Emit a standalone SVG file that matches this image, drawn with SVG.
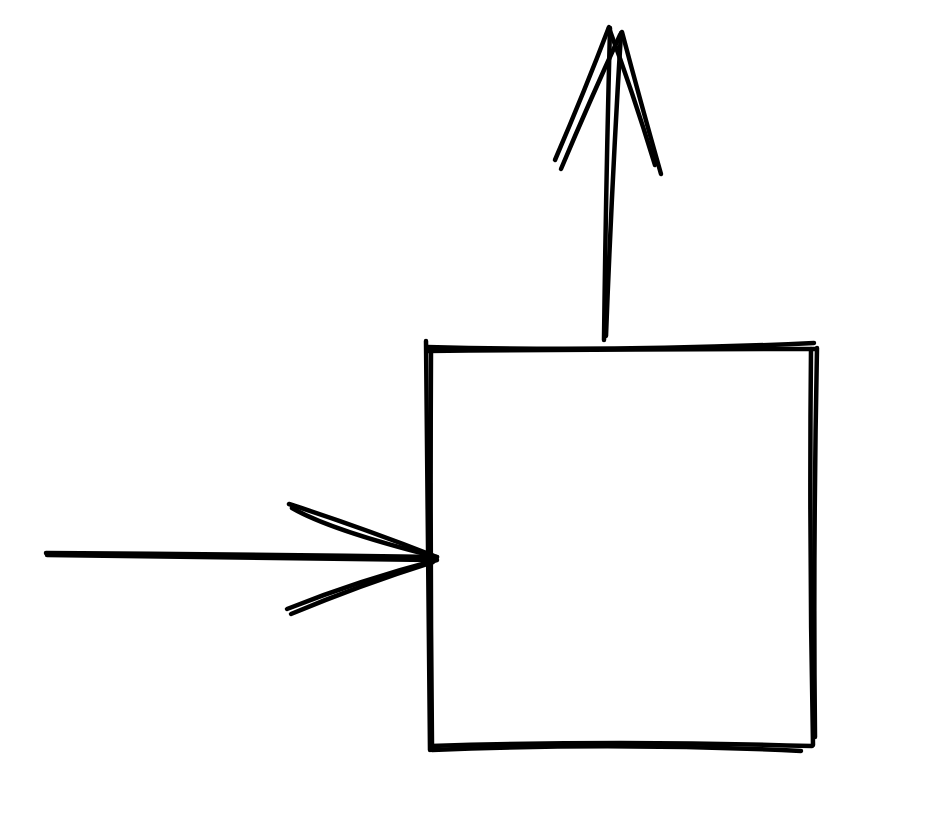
<svg xmlns="http://www.w3.org/2000/svg" width="927" height="829" viewBox="0 0 927 829">
<style>
.s{fill:none;stroke:#000;stroke-width:4.5;stroke-linecap:round;stroke-linejoin:round}
</style>
<rect width="927" height="829" fill="#fff"/>
<g id="box">
<path class="s" d="M426 341 Q428 545 430 750"/>
<path class="s" d="M431 350 Q430 550 432 745"/>
<path class="s" d="M427 347 Q620 352 814 343"/>
<path class="s" d="M428 351 Q620 349 815 349"/>
<path class="s" d="M811 349 Q809 550 813 745"/>
<path class="s" d="M817 348 Q813 550 815 737"/>
<path class="s" d="M431 746 Q620 740 812 746"/>
<path class="s" d="M432 750 Q620 742 801 751"/>
</g>
<g id="connectors">
<path class="s" d="M604 340 Q606 180 610 28"/>
<path class="s" d="M606 336 Q612 180 621 33"/>
<path class="s" d="M555 160 Q585 90 609 27"/>
<path class="s" d="M561 169 Q590 100 620 35"/>
<path class="s" d="M609 28 Q632 90 655 165"/>
<path class="s" d="M622 32 Q640 100 661 174"/>
<path class="s" d="M46 553 Q240 554 437 557"/>
<path class="s" d="M47 555 Q240 557 432 560"/>
<path class="s" d="M289 504 Q360 527 437 557"/>
<path class="s" d="M292 508 Q330 530 433 556"/>
<path class="s" d="M287 609 Q360 580 437 560"/>
<path class="s" d="M291 614 Q360 585 433 562"/>
</g>
</svg>
